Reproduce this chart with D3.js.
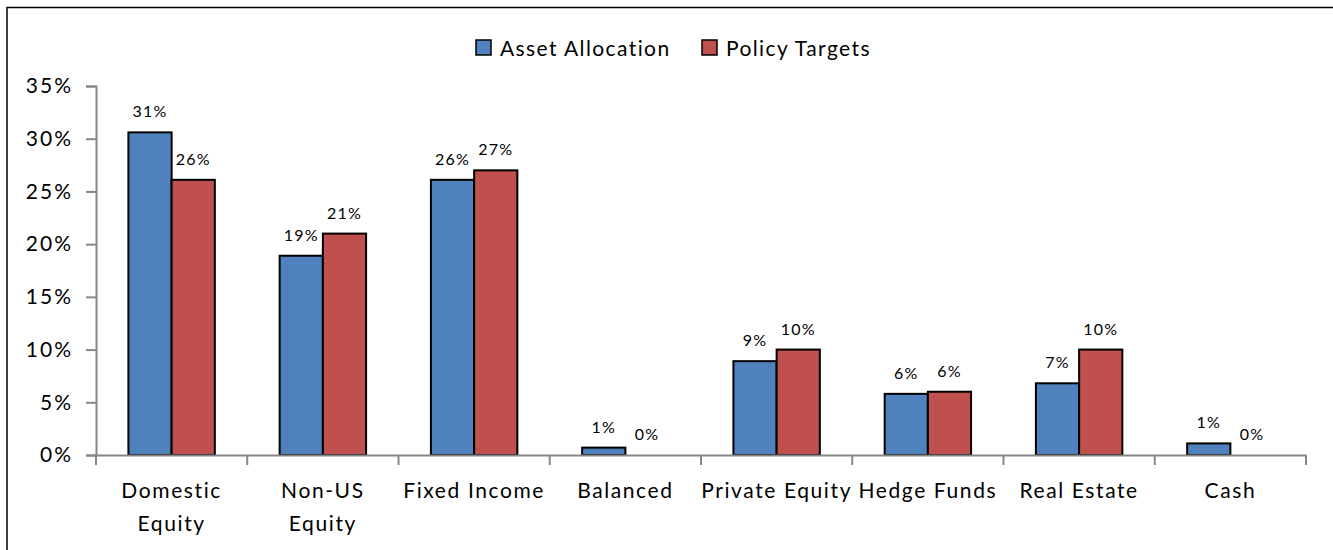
<!DOCTYPE html>
<html>
<head>
<meta charset="utf-8">
<script src="https://cdn.jsdelivr.net/npm/d3@7"></script>
<style>
  body { margin: 0; background: #fff; }
  text { font-family: Lato, "Open Sans", sans-serif; fill: #000; }
</style>
</head>
<body>
<div id="container"></div>
<script>
/* CONSTANTS AND GLOBALS */
const width = 1333,
      height = 550,
      margin = {top: 86, right: 27, bottom: 95, left: 96};

/* DATA */
const categories = ["Domestic Equity", "Non-US Equity", "Fixed Income", "Balanced",
                    "Private Equity", "Hedge Funds", "Real Estate", "Cash"];
const categoryLines = [["Domestic", "Equity"], ["Non-US", "Equity"], ["Fixed Income"], ["Balanced"],
                       ["Private Equity"], ["Hedge Funds"], ["Real Estate"], ["Cash"]];
const seriesNames = ["Asset Allocation", "Policy Targets"];
const assetAllocation = [30.6, 18.9, 26.1, 0.7, 8.9, 5.8, 6.8, 1.1];
const policyTargets = [26.1, 21.0, 27.0, 0.0, 10.0, 6.0, 10.0, 0.0];
const yTicks = [0, 5, 10, 15, 20, 25, 30, 35];
const colors = ["#4f81bd", "#c0504d"];

const rows = categories.map((c, i) => ({
  category: c,
  values: [assetAllocation[i], policyTargets[i]]
}));

// SCALES
const xScale = d3.scaleBand()
  .domain(categories)
  .range([margin.left, width - margin.right])
  .paddingInner(0)
  .paddingOuter(0);

const innerScale = d3.scaleBand()
  .domain(seriesNames)
  .range([0, xScale.bandwidth()])
  .paddingOuter(0.75)
  .paddingInner(0);

const yScale = d3.scaleLinear()
  .domain([0, 35])
  .range([height - margin.bottom, margin.top]);

// CREATE SVG ELEMENT
const svg = d3.select("#container")
  .append("svg")
  .attr("width", width)
  .attr("height", height);

// outer frame
svg.append("rect")
  .attr("x", 7)
  .attr("y", 7.5)
  .attr("width", width + 10)
  .attr("height", height + 10)
  .attr("fill", "none")
  .attr("stroke", "#000")
  .attr("stroke-width", 1.5);

// Y AXIS
const yAxis = d3.axisLeft(yScale)
  .tickValues(yTicks)
  .tickSize(10)
  .tickPadding(13)
  .tickFormat(d => d + "%");

svg.append("g")
  .attr("class", "yAxis")
  .attr("transform", `translate(${margin.left}, 0)`)
  .call(yAxis)
  .call(g => g.select(".domain").attr("stroke", "#868686").attr("stroke-width", 2))
  .call(g => g.selectAll(".tick line").attr("stroke", "#868686").attr("stroke-width", 2))
  .call(g => g.selectAll(".tick text").attr("font-size", 21).attr("fill", "#000")
    .attr("letter-spacing", 2)
    .style("font-family", "Lato, sans-serif"));

// BARS
const groups = svg.selectAll("g.group")
  .data(rows)
  .join("g")
  .attr("class", "group")
  .attr("transform", d => `translate(${xScale(d.category)}, 0)`);

groups.selectAll("rect")
  .data(d => d.values.map((v, j) => ({series: seriesNames[j], value: v, j: j})))
  .join("rect")
  .filter(d => d.value > 0)
  .attr("x", d => innerScale(d.series))
  .attr("y", d => yScale(d.value))
  .attr("width", innerScale.bandwidth())
  .attr("height", d => yScale(0) - yScale(d.value))
  .attr("fill", d => colors[d.j])
  .attr("stroke", "#000")
  .attr("stroke-width", 2);

// DATA LABELS
groups.selectAll("text.label")
  .data(d => d.values.map((v, j) => ({series: seriesNames[j], value: v})))
  .join("text")
  .attr("class", "label")
  .attr("x", d => innerScale(d.series) + innerScale.bandwidth() / 2)
  .attr("y", d => yScale(d.value) - 15)
  .attr("text-anchor", "middle")
  .attr("font-size", 16)
  .attr("letter-spacing", 1.2)
  .text(d => Math.round(d.value) + "%");

// X AXIS
const xAxis = d3.axisBottom(xScale).tickSize(0).tickFormat("");
const xg = svg.append("g")
  .attr("class", "xAxis")
  .attr("transform", `translate(0, ${yScale(0)})`)
  .call(xAxis);
xg.select(".domain").attr("stroke", "#868686").attr("stroke-width", 2);

const boundaries = categories.map(c => xScale(c)).concat([xScale.range()[1]]);
xg.selectAll("line.sep")
  .data(boundaries)
  .join("line")
  .attr("class", "sep")
  .attr("x1", d => d).attr("x2", d => d)
  .attr("y1", 0).attr("y2", 10)
  .attr("stroke", "#868686")
  .attr("stroke-width", 2);

// category labels
svg.selectAll("text.cat")
  .data(categoryLines)
  .join("text")
  .attr("class", "cat")
  .attr("text-anchor", "middle")
  .attr("font-size", 21)
  .attr("letter-spacing", 1.6)
  .attr("x", (d, i) => xScale(categories[i]) + xScale.bandwidth() / 2)
  .attr("y", yScale(0) + 43)
  .selectAll("tspan")
  .data(d => d)
  .join("tspan")
  .attr("x", function() { return this.parentNode.getAttribute("x"); })
  .attr("dy", (d, i) => i === 0 ? 0 : 33)
  .text(d => d);

// LEGEND
const legend = svg.append("g").attr("class", "legend");
const legendX = [476, 702];
seriesNames.forEach((name, i) => {
  legend.append("rect")
    .attr("x", legendX[i])
    .attr("y", 40)
    .attr("width", 15)
    .attr("height", 15)
    .attr("fill", colors[i])
    .attr("stroke", "#000")
    .attr("stroke-width", 1.5);
  legend.append("text")
    .attr("x", legendX[i] + 24)
    .attr("y", 56)
    .attr("font-size", 21)
    .attr("letter-spacing", 1.4)
    .text(name);
});
</script>
</body>
</html>
